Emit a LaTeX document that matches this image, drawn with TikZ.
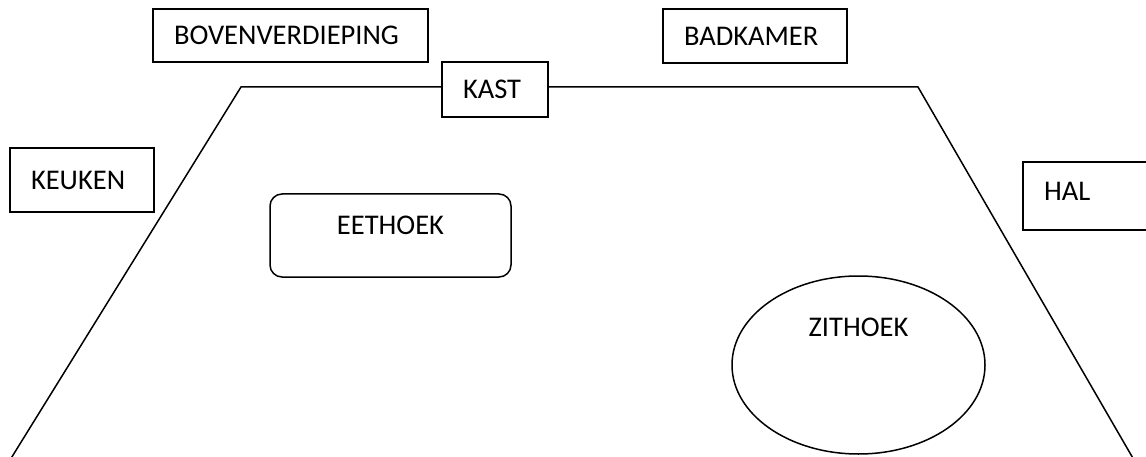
\documentclass[tikz,border=0pt]{standalone}
\usepackage{fontspec}
\setmainfont{Carlito}
\usetikzlibrary{shapes.geometric}
\begin{document}
\begin{tikzpicture}[x=1pt, y=-1pt, line width=1.5pt,
	kamer/.style={draw, inner xsep=21pt, inner ysep=0pt, text height=18.5pt, text depth=0pt, align=left, font=\fontsize{28.5}{34}\selectfont},
	hoek/.style={draw, inner sep=0pt, text height=18.5pt, align=center, font=\fontsize{28.5}{34}\selectfont}]
	\useasboundingbox (0,0) rectangle (1146,457);
	\clip (0,0) rectangle (1146,457);

	% Manual node positions
	\node[kamer, text width=233pt, minimum height=53pt] (boven) at (290.5,35.5) {BOVENVERDIEPING};
	\node[kamer, text width=142pt, minimum height=54pt] (badkamer) at (755,36) {BADKAMER};
	\node[kamer, text width=64pt, minimum height=55pt] (kast) at (495,89.5) {KAST};
	\node[kamer, text width=102pt, minimum height=64pt] (keuken) at (82,180) {KEUKEN};
	\node[kamer, text width=108pt, minimum height=68pt, text depth=9pt] (hal) at (1098,196) {HAL};
	\node[hoek, rounded corners=12pt, minimum width=241pt, minimum height=83pt, text depth=20pt] (eethoek) at (390.5,235.5) {EETHOEK};
	\node[hoek, ellipse, minimum width=253pt, minimum height=178pt, text depth=75pt] (zithoek) at (858.5,365) {ZITHOEK};

	% Walls
	\coordinate (linksonder) at (10,460);
	\coordinate (linksboven) at (241,87);
	\coordinate (rechtsboven) at (918,87);
	\coordinate (rechtsonder) at (1134,460);
	\draw (linksonder) -- (linksboven) -- (linksboven -| kast.west);
	\draw (kast.east |- rechtsboven) -- (rechtsboven) -- (rechtsonder);

\end{tikzpicture}
\end{document}
